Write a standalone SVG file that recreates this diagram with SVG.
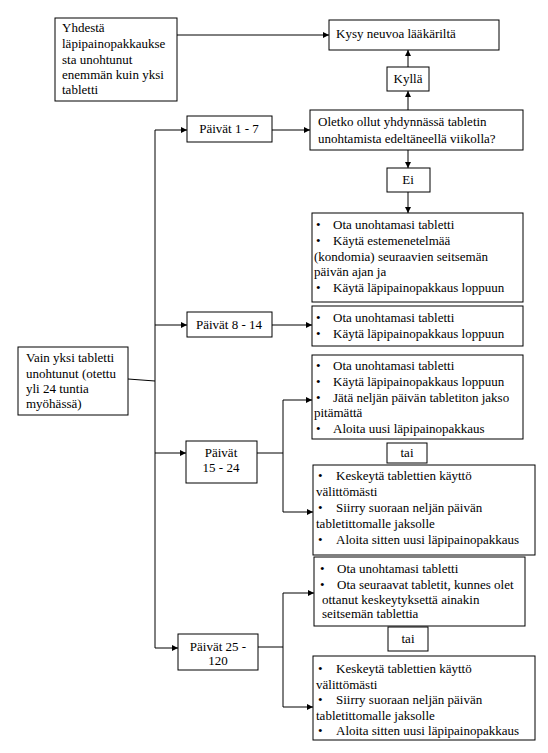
<svg xmlns="http://www.w3.org/2000/svg" width="548" height="753" viewBox="0 0 548 753">
<defs>
<marker id="ah" markerWidth="6" markerHeight="6" refX="6" refY="3" orient="auto" markerUnits="userSpaceOnUse">
<path d="M0,0 L6,3 L0,6 z" fill="#000"/>
</marker>
<style>
.box{fill:#fff;stroke:#000;stroke-width:1}
.t{font-family:'Liberation Serif','DejaVu Serif','Times New Roman',serif;font-size:13px;fill:#000}
.m{text-anchor:middle}
.c{stroke:#000;stroke-width:1;fill:none}
.a{marker-end:url(#ah)}
</style>
</defs>
<rect width="548" height="753" fill="#fff"/>
<g id="connectors">
<path class="c a" d="M177,35 H329"/>
<path class="c a" d="M408,67 V50"/>
<path class="c a" d="M408,110 V91"/>
<path class="c a" d="M272,130 H310"/>
<path class="c a" d="M408,150 V168"/>
<path class="c a" d="M408,192 V213"/>
<path class="c" d="M128,379 L155,381"/>
<path class="c" d="M155,130 V648"/>
<path class="c a" d="M155,130 H187"/>
<path class="c a" d="M155,325 H187"/>
<path class="c a" d="M155,453 H186"/>
<path class="c a" d="M155,648 H178"/>
<path class="c a" d="M272,325 H312"/>
<path class="c" d="M257,453 H283 M283,400 V512"/>
<path class="c a" d="M283,400 H312"/>
<path class="c a" d="M283,512 H313"/>
<path class="c" d="M258,647 H283 M283,593 V707"/>
<path class="c a" d="M283,593 H314"/>
<path class="c a" d="M283,707 H313"/>
</g>
<g id="yhdesta">
<rect class="box" x="55" y="18" width="122" height="83"/>
<text class="t" x="62" y="32">Yhdestä</text>
<text class="t" x="62" y="48">läpipainopakkaukse</text>
<text class="t" x="62" y="64">sta unohtunut</text>
<text class="t" x="62" y="79">enemmän kuin yksi</text>
<text class="t" x="62" y="94">tabletti</text>
</g>
<g id="kysy">
<rect class="box" x="329" y="20" width="170" height="30"/>
<text class="t" x="336" y="38">Kysy neuvoa lääkäriltä</text>
</g>
<g id="kylla">
<rect class="box" x="387" y="67" width="42" height="24"/>
<text class="t m" x="408" y="83">Kyllä</text>
</g>
<g id="oletko">
<rect class="box" x="310" y="110" width="213" height="40"/>
<text class="t" x="318" y="126">Oletko ollut yhdynnässä tabletin</text>
<text class="t" x="318" y="143">unohtamista edeltäneellä viikolla?</text>
</g>
<g id="ei">
<rect class="box" x="387" y="168" width="43" height="24"/>
<text class="t m" x="408" y="184">Ei</text>
</g>
<g id="paivat1-7">
<rect class="box" x="187" y="116" width="85" height="26"/>
<text class="t m" x="229" y="133">Päivät 1 - 7</text>
</g>
<g id="ohje1">
<rect class="box" x="312" y="213" width="211" height="89"/>
<text class="t" x="316" y="229">•</text><text class="t" x="333" y="229">Ota unohtamasi tabletti</text>
<text class="t" x="316" y="245">•</text><text class="t" x="333" y="245">Käytä estemenetelmää</text>
<text class="t" x="314" y="261">(kondomia) seuraavien seitsemän</text>
<text class="t" x="314" y="276">päivän ajan ja</text>
<text class="t" x="316" y="292">•</text><text class="t" x="333" y="292">Käytä läpipainopakkaus loppuun</text>
</g>
<g id="paivat8-14">
<rect class="box" x="187" y="312" width="85" height="25"/>
<text class="t m" x="229" y="329">Päivät 8 - 14</text>
</g>
<g id="ohje2">
<rect class="box" x="312" y="306" width="211" height="40"/>
<text class="t" x="316" y="322">•</text><text class="t" x="333" y="322">Ota unohtamasi tabletti</text>
<text class="t" x="316" y="338">•</text><text class="t" x="333" y="338">Käytä läpipainopakkaus loppuun</text>
</g>
<g id="vain">
<rect class="box" x="18" y="347" width="110" height="68"/>
<text class="t" x="26" y="362">Vain yksi tabletti</text>
<text class="t" x="26" y="378">unohtunut (otettu</text>
<text class="t" x="26" y="393">yli 24 tuntia</text>
<text class="t" x="26" y="408">myöhässä)</text>
</g>
<g id="ohje3">
<rect class="box" x="312" y="355" width="211" height="84"/>
<text class="t" x="316" y="370">•</text><text class="t" x="333" y="370">Ota unohtamasi tabletti</text>
<text class="t" x="316" y="386">•</text><text class="t" x="333" y="386">Käytä läpipainopakkaus loppuun</text>
<text class="t" x="316" y="402">•</text><text class="t" x="333" y="402">Jätä neljän päivän tabletiton jakso</text>
<text class="t" x="314" y="417">pitämättä</text>
<text class="t" x="316" y="433">•</text><text class="t" x="333" y="433">Aloita uusi läpipainopakkaus</text>
</g>
<g id="tai1">
<rect class="box" x="387" y="443" width="40" height="20"/>
<text class="t m" x="407" y="457">tai</text>
</g>
<g id="paivat15-24">
<rect class="box" x="186" y="441" width="71" height="42"/>
<text class="t m" x="221" y="457">Päivät</text>
<text class="t m" x="221" y="472">15 - 24</text>
</g>
<g id="ohje4">
<rect class="box" x="313" y="465" width="222" height="90"/>
<text class="t" x="318" y="480">•</text><text class="t" x="336" y="480">Keskeytä tablettien käyttö</text>
<text class="t" x="316" y="496">välittömästi</text>
<text class="t" x="318" y="512">•</text><text class="t" x="336" y="512">Siirry suoraan neljän päivän</text>
<text class="t" x="316" y="528">tabletittomalle jaksolle</text>
<text class="t" x="318" y="544">•</text><text class="t" x="336" y="544">Aloita sitten uusi läpipainopakkaus</text>
</g>
<g id="ohje5">
<rect class="box" x="314" y="557" width="211" height="69"/>
<text class="t" x="320" y="573">•</text><text class="t" x="337" y="573">Ota unohtamasi tabletti</text>
<text class="t" x="320" y="589">•</text><text class="t" x="337" y="589">Ota seuraavat tabletit, kunnes olet</text>
<text class="t" x="322" y="604">ottanut keskeytyksettä ainakin</text>
<text class="t" x="322" y="618">seitsemän tablettia</text>
</g>
<g id="tai2">
<rect class="box" x="388" y="627" width="40" height="24"/>
<text class="t m" x="408" y="643">tai</text>
</g>
<g id="paivat25-120">
<rect class="box" x="178" y="634" width="80" height="36"/>
<text class="t m" x="218" y="651">Päivät 25 -</text>
<text class="t m" x="218" y="665">120</text>
</g>
<g id="ohje6">
<rect class="box" x="313" y="656" width="222" height="84"/>
<text class="t" x="318" y="673">•</text><text class="t" x="336" y="673">Keskeytä tablettien käyttö</text>
<text class="t" x="316" y="689">välittömästi</text>
<text class="t" x="318" y="704">•</text><text class="t" x="336" y="704">Siirry suoraan neljän päivän</text>
<text class="t" x="316" y="720">tabletittomalle jaksolle</text>
<text class="t" x="318" y="735">•</text><text class="t" x="336" y="735">Aloita sitten uusi läpipainopakkaus</text>
</g>
</svg>
